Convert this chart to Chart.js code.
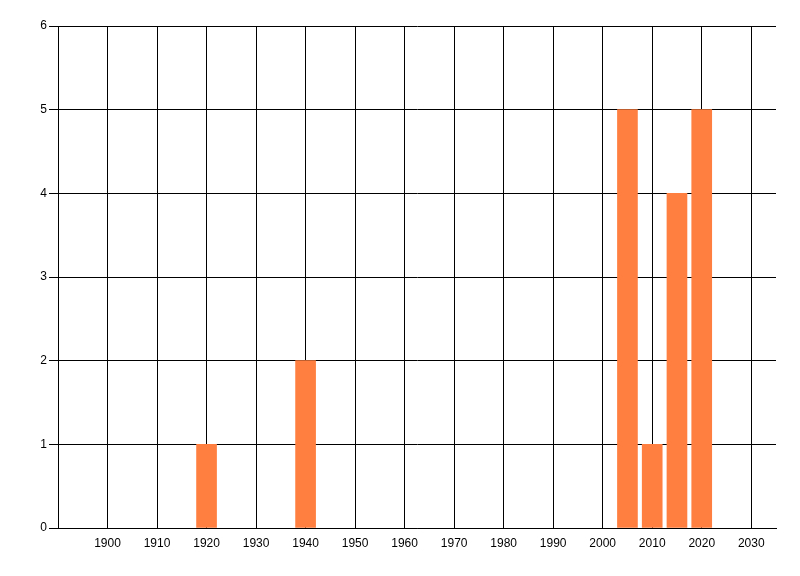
<!DOCTYPE html>
<html>
<head>
<meta charset="utf-8">
<script src="https://cdn.jsdelivr.net/npm/chart.js@4.4.1/dist/chart.umd.min.js"></script>
<style>
  html, body { margin: 0; padding: 0; background: #fff; }
  #wrap { width: 800px; height: 576px; }
</style>
</head>
<body>
<div id="wrap"><canvas id="grafico" width="800" height="576"></canvas></div>
<script>
// datos
const anios = [1920, 1940, 2005, 2010, 2015, 2020];
const cantidades = [1, 2, 5, 1, 4, 5];
const ticksX = [1900, 1910, 1920, 1930, 1940, 1950, 1960, 1970, 1980, 1990, 2000, 2010, 2020, 2030];
const ticksY = [0, 1, 2, 3, 4, 5, 6];

const fuente = { family: '"Liberation Sans", Arial, sans-serif', size: 12 };

const ctx = document.getElementById('grafico').getContext('2d');

new Chart(ctx, {
  type: 'bar',
  data: {
    datasets: [{
      data: anios.map((a, i) => ({ x: a, y: cantidades[i] })),
      backgroundColor: 'rgb(255,127,64)',
      borderWidth: 0,
      barThickness: 20
    }]
  },
  options: {
    responsive: false,
    animation: false,
    layout: { padding: { left: 0, right: 24, top: 26, bottom: 0 } },
    plugins: {
      legend: { display: false },
      tooltip: { enabled: false }
    },
    scales: {
      x: {
        type: 'linear',
        min: 1890,
        max: 2035,
        offset: false,
        afterBuildTicks: s => { s.ticks = ticksX.map(v => ({ value: v })); },
        afterFit: s => { s.height = 48; },
        grid: { color: '#000', lineWidth: 1, drawTicks: false, offset: false },
        border: { color: '#000', width: 1 },
        ticks: { color: '#000', font: fuente, padding: 8, maxRotation: 0, autoSkip: false, callback: v => String(v) }
      },
      y: {
        min: 0,
        max: 6,
        afterBuildTicks: s => { s.ticks = ticksY.map(v => ({ value: v })); },
        afterFit: s => { s.width = 58; },
        grid: { color: '#000', lineWidth: 1, tickLength: 9 },
        border: { color: '#000', width: 1 },
        ticks: { color: '#000', font: fuente, padding: 2 }
      }
    }
  }
});
</script>
</body>
</html>
